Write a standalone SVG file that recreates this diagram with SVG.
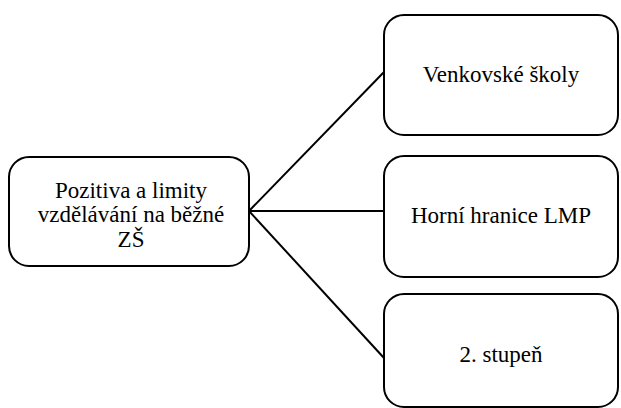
<svg xmlns="http://www.w3.org/2000/svg" width="621" height="408" viewBox="0 0 621 408">
<style>
.box{fill:#fff;stroke:#000;stroke-width:2}
.t{font-family:'Liberation Serif','Times New Roman',Times,serif;font-size:23px;fill:#000;text-anchor:middle}
.c{stroke:#000;stroke-width:2;fill:none}
</style>
<rect width="621" height="408" fill="#fff"/>
<g id="connectors">
<line class="c" x1="249" y1="211" x2="384" y2="72"/>
<line class="c" x1="249" y1="211" x2="384" y2="211"/>
<line class="c" x1="249" y1="211" x2="384" y2="358"/>
</g>
<g id="root">
<rect class="box" x="9" y="157" width="240" height="109" rx="20"/>
<text class="t" font-family="Liberation Serif, serif" x="131" y="198">Pozitiva a limity</text>
<text class="t" font-family="Liberation Serif, serif" x="131" y="222">vzdělávání na běžné</text>
<text class="t" font-family="Liberation Serif, serif" x="131" y="247">ZŠ</text>
</g>
<g id="n1">
<rect class="box" x="384" y="15" width="234" height="120" rx="20"/>
<text class="t" font-family="Liberation Serif, serif" x="501" y="82">Venkovské školy</text>
</g>
<g id="n2">
<rect class="box" x="384" y="156" width="234" height="121" rx="20"/>
<text class="t" font-family="Liberation Serif, serif" x="501" y="223">Horní hranice LMP</text>
</g>
<g id="n3">
<rect class="box" x="384" y="294" width="234" height="113" rx="20"/>
<text class="t" font-family="Liberation Serif, serif" x="501" y="362">2. stupeň</text>
</g>
</svg>
